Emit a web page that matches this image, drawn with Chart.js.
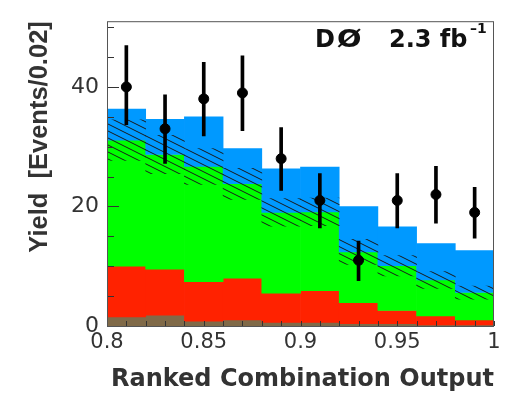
<!DOCTYPE html>
<html>
<head>
<meta charset="utf-8">
<script src="https://cdn.jsdelivr.net/npm/chart.js@4.4.0/dist/chart.umd.min.js"></script>
<style>
  html, body { margin: 0; padding: 0; background: #fff; }
  #wrap { width: 522px; height: 398px; }
</style>
</head>
<body>
<div id="wrap"><canvas id="myChart"></canvas></div>
<script>
// bin centres (bin width 0.02)
const binCenters = [0.81, 0.83, 0.85, 0.87, 0.89, 0.91, 0.93, 0.95, 0.97, 0.99];

// expected yields per process, bottom to top
const multijet = [1.5, 1.8, 0.8, 1.0, 0.6, 0.6, 0.4, 0.4, 0.2, 0.2];
const ttbar    = [8.5, 7.7, 6.6, 7.0, 4.9, 5.3, 3.5, 2.2, 1.5, 0.8];
const wjets    = [21.1, 19.2, 19.3, 15.8, 13.5, 13.2, 8.5, 7.5, 6.0, 4.6];
const signal   = [5.2, 5.9, 8.3, 5.9, 7.3, 7.5, 7.6, 6.5, 6.1, 7.0];

// background uncertainty (half width of hatched band)
const bkgErr = [3.4, 3.2, 3.0, 2.6, 2.3, 2.3, 2.1, 1.7, 1.4, 1.1];

// data
const dataY  = [40, 33, 38, 39, 28, 21, 11, 21, 22, 19];
const dataLo = [33.7, 27.2, 31.8, 32.7, 22.7, 16.4, 7.6, 16.4, 17.2, 14.7];
const dataHi = [46.9, 38.7, 44.1, 45.2, 33.2, 25.5, 14.2, 25.5, 26.7, 23.2];

const xTicks = [0.8, 0.85, 0.9, 0.95, 1];
const yTicks = [0, 20, 40];

// build floating bars [from, to] out of the stacked components
let base = binCenters.map(() => 0);
function layer(vals) {
  const out = binCenters.map((x, i) => ({x: x, y: [base[i], base[i] + vals[i]]}));
  base = base.map((b, i) => b + vals[i]);
  return out;
}
const mjBars = layer(multijet);
const ttBars = layer(ttbar);
const wBars = layer(wjets);
const bkgTop = base.slice();
const sigBars = layer(signal);
const bandBars = binCenters.map((x, i) => ({x: x, y: [bkgTop[i] - bkgErr[i], bkgTop[i] + bkgErr[i]]}));
const errBars = binCenters.map((x, i) => ({x: x, y: [dataLo[i], dataHi[i]]}));
const points = binCenters.map((x, i) => ({x: x, y: dataY[i]}));

function hatch() {
  const c = document.createElement('canvas');
  c.width = 14; c.height = 7;
  const g = c.getContext('2d');
  g.strokeStyle = '#1a1a1a';
  g.lineWidth = 1;
  for (let k = -1; k <= 1; k++) {
    g.beginPath();
    g.moveTo(0, k * 7);
    g.lineTo(14, k * 7 + 7);
    g.stroke();
  }
  return g.createPattern(c, 'repeat');
}

const fill = {type: 'bar', grouped: false, barPercentage: 1, categoryPercentage: 1, borderWidth: 0, order: 3};

// inside ticks, frame and the DØ label
const decor = {
  id: 'decor',
  afterDatasetsDraw(chart) {
    const {ctx, chartArea: a, scales: {x, y}} = chart;
    ctx.save();
    ctx.strokeStyle = '#333';
    ctx.lineWidth = 1;
    ctx.beginPath();
    for (let v = 80; v <= 100; v++) {
      const px = Math.round(x.getPixelForValue(v / 100)) + 0.5;
      ctx.moveTo(px, a.bottom);
      ctx.lineTo(px, a.bottom - 5);
    }
    for (let v = 0; v <= 50; v += 5) {
      const py = Math.round(y.getPixelForValue(v)) + 0.5;
      ctx.moveTo(a.left, py);
      ctx.lineTo(a.left + (v % 20 ? 7 : 12), py);
    }
    ctx.stroke();
    ctx.strokeStyle = '#555';
    ctx.strokeRect(a.left + 0.5, a.top + 0.5, a.width - 1, a.height);

    // experiment label
    ctx.fillStyle = '#111';
    ctx.textBaseline = 'alphabetic';
    ctx.font = 'bold 24px "DejaVu Sans"';
    ctx.fillText('D', 315, 47);
    ctx.save();
    ctx.translate(337, 47);
    ctx.scale(1.2, 1);
    ctx.fillText('Ø', 0, 0);
    ctx.restore();
    ctx.fillText('2.3 fb', 389, 47);
    ctx.font = 'bold 14px "DejaVu Sans"';
    ctx.fillText('\u20131', 470, 33);
    ctx.restore();
  }
};

new Chart(document.getElementById('myChart'), {
  type: 'bar',
  data: {
    datasets: [
      {type: 'scatter', data: points, backgroundColor: '#000', borderColor: '#000', pointRadius: 5, order: 0},
      {type: 'bar', data: errBars, grouped: false, barThickness: 3, backgroundColor: '#000', borderWidth: 0, order: 1},
      Object.assign({}, fill, {data: bandBars, backgroundColor: hatch(), order: 2}),
      Object.assign({}, fill, {data: sigBars, backgroundColor: '#0099ff'}),
      Object.assign({}, fill, {data: wBars, backgroundColor: '#00ff00'}),
      Object.assign({}, fill, {data: ttBars, backgroundColor: '#ff2200'}),
      Object.assign({}, fill, {data: mjBars, backgroundColor: '#806a48'})
    ]
  },
  options: {
    responsive: true,
    maintainAspectRatio: false,
    animation: false,
    layout: {padding: {top: 7, right: 28, left: 0, bottom: 0}},
    plugins: {legend: {display: false}, tooltip: {enabled: false}},
    scales: {
      x: {
        type: 'linear',
        offset: false,
        min: 0.8,
        max: 1,
        grid: {display: false, drawTicks: false, offset: false},
        border: {display: false},
        afterBuildTicks: s => { s.ticks = xTicks.map(v => ({value: v})); },
        afterFit: s => { s.height = 72; },
        ticks: {
          padding: 4,
          color: '#333',
          font: {family: 'DejaVu Sans', size: 21},
          maxRotation: 0,
          callback: v => String(+v.toFixed(2))
        },
        title: {
          display: true,
          text: 'Ranked Combination Output',
          align: 'end',
          color: '#333',
          font: {family: 'DejaVu Sans', size: 24, weight: 'bold', lineHeight: 1},
          padding: {top: 0, bottom: 6}
        }
      },
      y: {
        min: 0,
        max: 51,
        grid: {display: false, drawTicks: false},
        border: {display: false},
        afterBuildTicks: s => { s.ticks = yTicks.map(v => ({value: v})); },
        afterFit: s => { s.width = 107; },
        ticks: {
          padding: 8,
          color: '#333',
          font: {family: 'DejaVu Sans', size: 22}
        },
        title: {
          display: true,
          text: 'Yield  [Events/0.02]',
          align: 'end',
          color: '#333',
          font: {family: 'Liberation Sans', size: 25.5, weight: 'bold', lineHeight: 1},
          padding: {top: 27, bottom: 0}
        }
      }
    }
  },
  plugins: [decor]
});
</script>
</body>
</html>
